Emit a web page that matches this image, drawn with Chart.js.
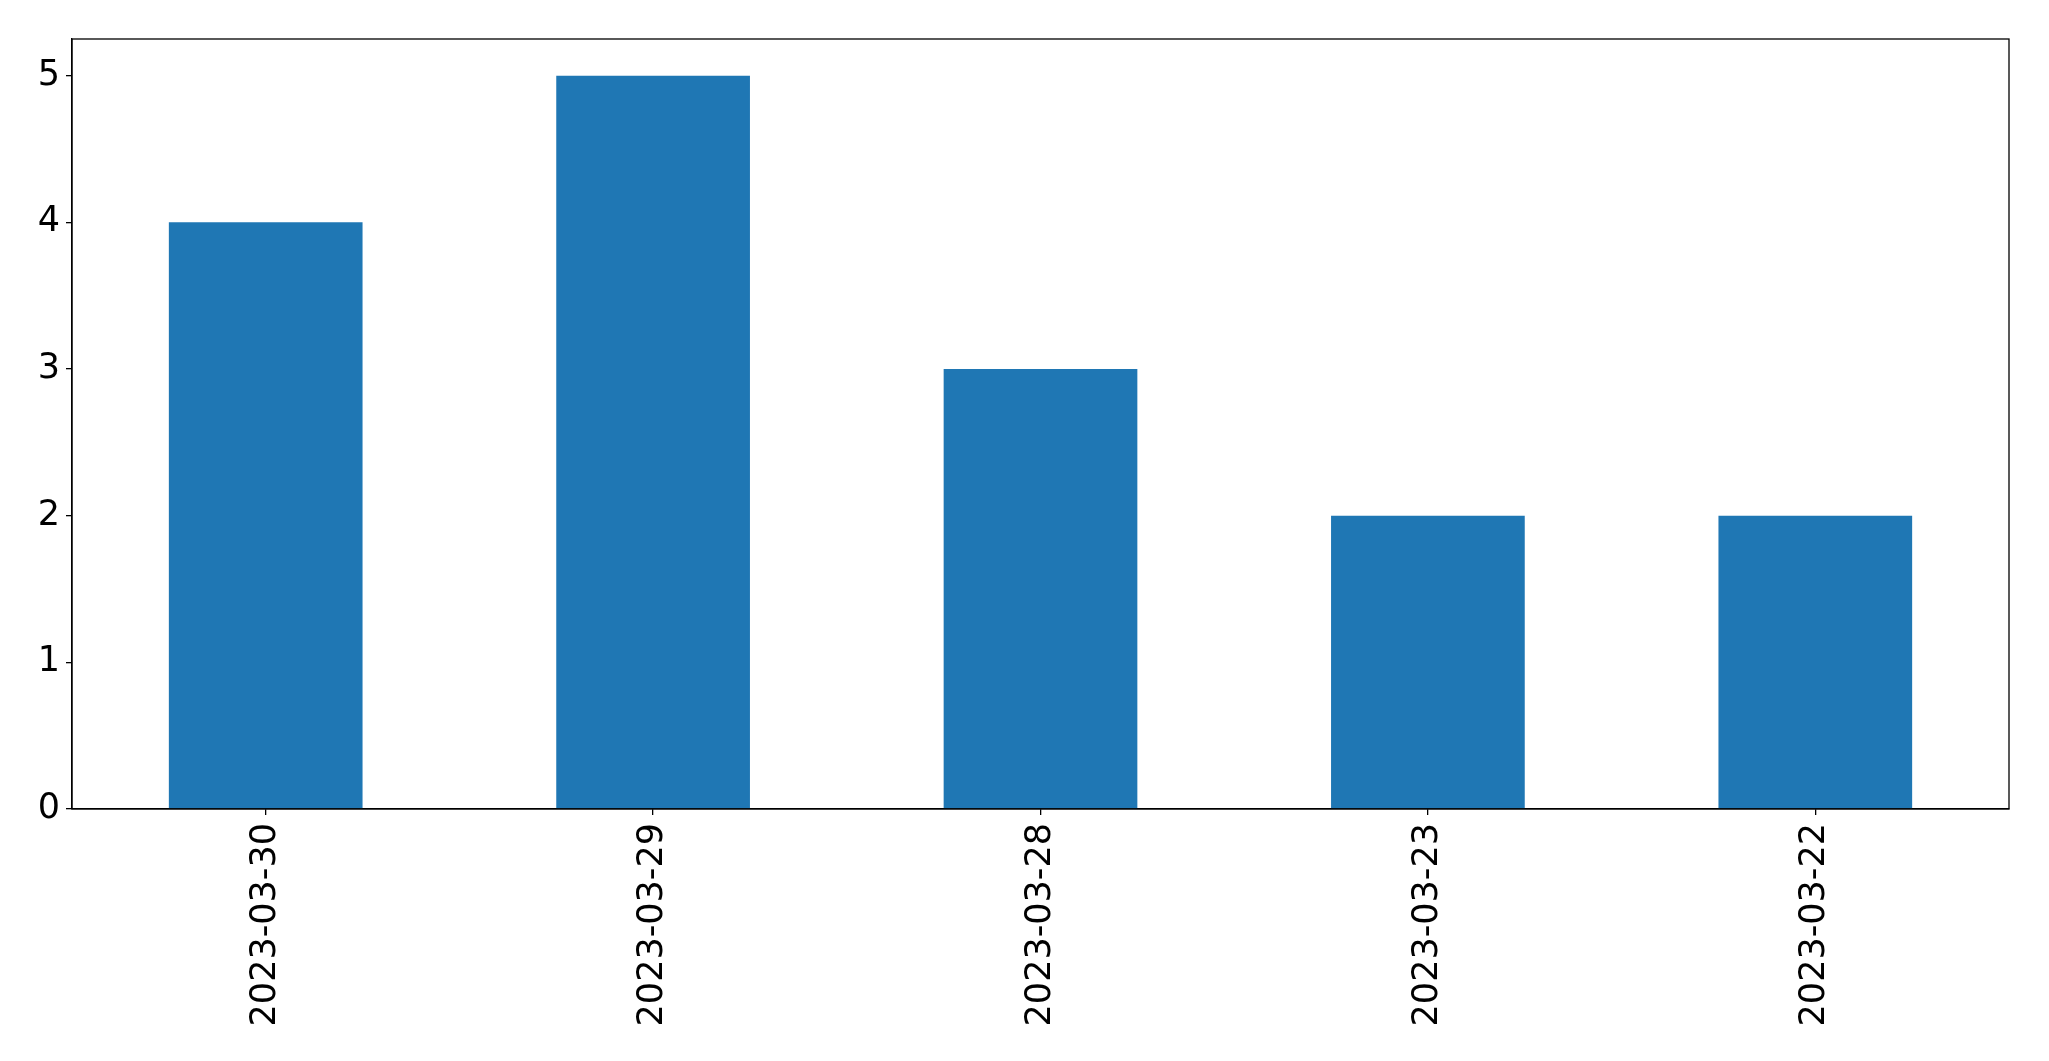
<!DOCTYPE html>
<html lang="en">
<head>
    <meta charset="UTF-8">
    <script src="https://cdn.jsdelivr.net/npm/chart.js"></script>
    <title>Contagem por data</title>
    <style>
        html, body { margin: 0; padding: 0; background: #fff; }
        #wrap { width: 2049px; height: 1061px; }
    </style>
</head>
<body>
    <div id="wrap"><canvas id="myChartCanvas"></canvas></div>
<script>
    // dados
    const datas = ['2023-03-30', '2023-03-29', '2023-03-28', '2023-03-23', '2023-03-22'];
    const contagens = [4, 5, 3, 2, 2];
    const ticksY = [0, 1, 2, 3, 4, 5];

    Chart.defaults.font.family = '"DejaVu Sans", sans-serif';
    Chart.defaults.color = '#000';

    // moldura em volta da área do gráfico (estilo matplotlib)
    const moldura = {
        id: 'moldura',
        afterDraw(chart) {
            const a = chart.chartArea;
            const ctx = chart.ctx;
            ctx.save();
            ctx.strokeStyle = '#000';
            ctx.lineWidth = 1.3;
            ctx.strokeRect(a.left, a.top, a.right - a.left, a.bottom - a.top);
            ctx.restore();
        }
    };

    const config = {
        type: 'bar',
        data: {
            labels: datas,
            datasets: [{
                label: '',
                data: contagens,
                backgroundColor: '#1f77b4',
                borderWidth: 0,
                barPercentage: 0.5,
                categoryPercentage: 1.0
            }]
        },
        options: {
            responsive: true,
            maintainAspectRatio: false,
            animation: false,
            layout: {
                padding: { left: 0, top: 39, right: 40, bottom: 0 }
            },
            plugins: {
                legend: { display: false },
                tooltip: { enabled: false },
                title: { display: false }
            },
            scales: {
                x: {
                    grid: {
                        display: true,
                        offset: false,
                        drawOnChartArea: false,
                        drawTicks: true,
                        tickLength: 6,
                        color: '#000',
                        lineWidth: 1.3
                    },
                    border: { display: true, color: '#000', width: 1.3 },
                    ticks: {
                        font: { size: 35 },
                        color: '#000',
                        maxRotation: 90,
                        minRotation: 90,
                        padding: 8
                    },
                    afterFit(scale) { scale.height = 252; }
                },
                y: {
                    min: 0,
                    max: 5.25,
                    grid: {
                        display: true,
                        drawOnChartArea: false,
                        drawTicks: true,
                        tickLength: 6,
                        color: '#000',
                        lineWidth: 1.3
                    },
                    border: { display: true, color: '#000', width: 1.3 },
                    afterBuildTicks(scale) {
                        scale.ticks = ticksY.map(v => ({ value: v }));
                    },
                    ticks: {
                        font: { size: 35 },
                        color: '#000',
                        padding: 6
                    },
                    afterFit(scale) { scale.width = 72; }
                }
            }
        },
        plugins: [moldura]
    };

    let myChart = new Chart(document.getElementById('myChartCanvas'), config);
</script>
</body>
</html>
